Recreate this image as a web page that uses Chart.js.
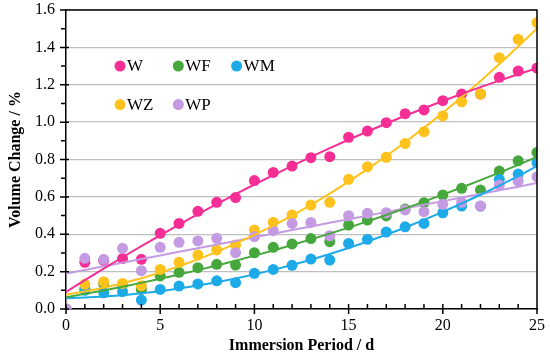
<!DOCTYPE html>
<html>
<head>
<meta charset="utf-8">
<script src="https://cdn.jsdelivr.net/npm/chart.js@4.4.0/dist/chart.umd.min.js"></script>
<style>
  body { margin: 0; background: #fff; }
</style>
</head>
<body>
<canvas id="chart" width="550" height="358"></canvas>
<script>
// Immersion days and measured volume change (%) per mix
const days = [0, 1, 2, 3, 4, 5, 6, 7, 8, 9, 10, 11, 12, 13, 14, 15, 16, 17, 18, 19, 20, 21, 22, 23, 24, 25];
const seriesNames = ["W", "WF", "WM", "WZ", "WP"];
const valuesW  = [0, 0.25, 0.26, 0.27, 0.266, 0.405, 0.458, 0.523, 0.571, 0.596, 0.687, 0.731, 0.765, 0.81, 0.815, 0.919, 0.952, 0.997, 1.045, 1.065, 1.115, 1.15, 1.15, 1.24, 1.273, 1.289];
const valuesWF = [0, 0.11, 0.135, 0.13, 0.105, 0.177, 0.196, 0.221, 0.239, 0.235, 0.301, 0.33, 0.348, 0.377, 0.36, 0.449, 0.476, 0.498, 0.535, 0.569, 0.61, 0.646, 0.637, 0.738, 0.793, 0.838];
const valuesWM = [0, 0.1, 0.087, 0.093, 0.048, 0.105, 0.123, 0.134, 0.151, 0.141, 0.191, 0.212, 0.234, 0.267, 0.262, 0.351, 0.373, 0.412, 0.44, 0.458, 0.515, 0.551, 0.55, 0.694, 0.722, 0.783];
const valuesWZ = [0, 0.132, 0.146, 0.137, 0.125, 0.212, 0.25, 0.289, 0.316, 0.342, 0.423, 0.464, 0.503, 0.556, 0.571, 0.694, 0.761, 0.812, 0.886, 0.949, 1.033, 1.109, 1.15, 1.345, 1.443, 1.532];
const valuesWP = [0, 0.271, 0.266, 0.325, 0.205, 0.33, 0.357, 0.364, 0.378, 0.301, 0.387, 0.419, 0.458, 0.463, 0.392, 0.499, 0.512, 0.515, 0.53, 0.521, 0.56, 0.57, 0.551, 0.663, 0.685, 0.708];
const trendOrders = [2, 2, 2, 2, 1];
const xTicks = [0, 5, 10, 15, 20, 25];
const yTicks = [0, 0.2, 0.4, 0.6, 0.8, 1.0, 1.2, 1.4, 1.6];

const allValues = [valuesW, valuesWF, valuesWM, valuesWZ, valuesWP];
const colors = ["#F52E96", "#46A83C", "#1DAAE8", "#FFC21C", "#C49BE2"];
const serif = "'Liberation Serif', 'Times New Roman', serif";

// least squares polynomial, returns coefficients c0..cn
function polyFit(xs, ys, order) {
  const n = order + 1;
  const A = Array.from({ length: n }, () => new Array(n + 1).fill(0));
  for (let k = 0; k < xs.length; k++) {
    for (let i = 0; i < n; i++) {
      for (let j = 0; j < n; j++) A[i][j] += Math.pow(xs[k], i + j);
      A[i][n] += ys[k] * Math.pow(xs[k], i);
    }
  }
  for (let i = 0; i < n; i++) {
    for (let r = i + 1; r < n; r++) {
      const f = A[r][i] / A[i][i];
      for (let c = i; c <= n; c++) A[r][c] -= f * A[i][c];
    }
  }
  const coef = new Array(n).fill(0);
  for (let i = n - 1; i >= 0; i--) {
    let s = A[i][n];
    for (let j = i + 1; j < n; j++) s -= A[i][j] * coef[j];
    coef[i] = s / A[i][i];
  }
  return coef;
}

const datasets = [];
allValues.forEach((vals, i) => {
  const coef = polyFit(days, vals, trendOrders[i]);
  datasets.push({
    type: "line",
    label: seriesNames[i] + " trend",
    data: days.map(d => ({ x: d, y: coef.reduce((s, c, p) => s + c * Math.pow(d, p), 0) })),
    borderColor: colors[i],
    borderWidth: 2,
    pointRadius: 0,
    fill: false,
    order: i
  });
});
allValues.forEach((vals, i) => {
  datasets.push({
    type: "scatter",
    label: seriesNames[i],
    data: days.map((d, k) => ({ x: d, y: vals[k] })),
    backgroundColor: colors[i],
    borderWidth: 0,
    pointRadius: 5.5,
    order: 10 - i
  });
});

// frame, minor ticks and the in-plot legend
const decorPlugin = {
  id: "decor",
  afterDraw(chart) {
    const ctx = chart.ctx;
    const a = chart.chartArea;
    const xs = chart.scales.x, ys = chart.scales.y;
    ctx.save();
    ctx.strokeStyle = "#000";
    ctx.lineWidth = 1.5;
    ctx.beginPath();
    ctx.moveTo(a.left, a.top); ctx.lineTo(a.right, a.top); ctx.lineTo(a.right, a.bottom);
    for (let d = 0; d <= 25; d++) {
      const px = xs.getPixelForValue(d);
      const major = d % 5 === 0;
      ctx.moveTo(px, a.bottom - 5);
      ctx.lineTo(px, a.bottom + (major ? 5 : 0));
    }
    for (let v = 0; v <= 16; v++) {
      const py = ys.getPixelForValue(v / 10);
      const major = v % 2 === 0;
      ctx.moveTo(a.left - (major ? 6 : 5), py);
      ctx.lineTo(a.left + (major ? 3 : 0), py);
    }
    ctx.stroke();

    ctx.font = "17px " + serif;
    ctx.textBaseline = "middle";
    ctx.fillStyle = "#000";
    seriesNames.forEach((name, i) => {
      const cx = a.left + 54 + (i % 3) * 58.3;
      const cy = a.top + 56 + Math.floor(i / 3) * 38.6;
      ctx.beginPath();
      ctx.fillStyle = colors[i];
      ctx.arc(cx, cy, 5.5, 0, Math.PI * 2);
      ctx.fill();
      ctx.fillStyle = "#000";
      ctx.fillText(name, cx + 7, cy + 1);
    });
    ctx.restore();
  }
};

new Chart(document.getElementById("chart"), {
  data: { datasets },
  options: {
    responsive: false,
    animation: false,
    layout: { padding: { top: 10, right: 13, left: 0, bottom: 0 } },
    plugins: { legend: { display: false }, tooltip: { enabled: false } },
    scales: {
      x: {
        type: "linear",
        min: 0,
        max: 25,
        afterBuildTicks: scale => { scale.ticks = xTicks.map(v => ({ value: v })); },
        afterFit: scale => { scale.height = 49; },
        ticks: { font: { family: serif, size: 16 }, color: "#000", padding: 2 },
        grid: { drawOnChartArea: false, tickLength: 5, tickColor: "rgba(0,0,0,0)" },
        border: { color: "#000", width: 1.5 },
        title: {
          display: true,
          text: "Immersion Period / d",
          font: { family: serif, size: 16, weight: "bold" },
          color: "#000",
          padding: { top: 0, bottom: 3 }
        }
      },
      y: {
        type: "linear",
        min: 0,
        max: 1.6,
        afterBuildTicks: scale => { scale.ticks = yTicks.map(v => ({ value: v })); },
        afterFit: scale => { scale.width = 66; scale.paddingTop = 0; scale.paddingBottom = 0; },
        ticks: {
          font: { family: serif, size: 16 },
          color: "#000",
          padding: 5,
          callback: v => v.toFixed(1)
        },
        grid: { color: "#bfbfbf", lineWidth: 1.3, tickLength: 6, tickColor: "rgba(0,0,0,0)" },
        border: { color: "#000", width: 1.5 },
        title: {
          display: true,
          text: "Volume Change / %",
          font: { family: serif, size: 16, weight: "bold" },
          color: "#000",
          padding: { top: 6, bottom: 0 }
        }
      }
    }
  },
  plugins: [decorPlugin]
});
</script>
</body>
</html>
